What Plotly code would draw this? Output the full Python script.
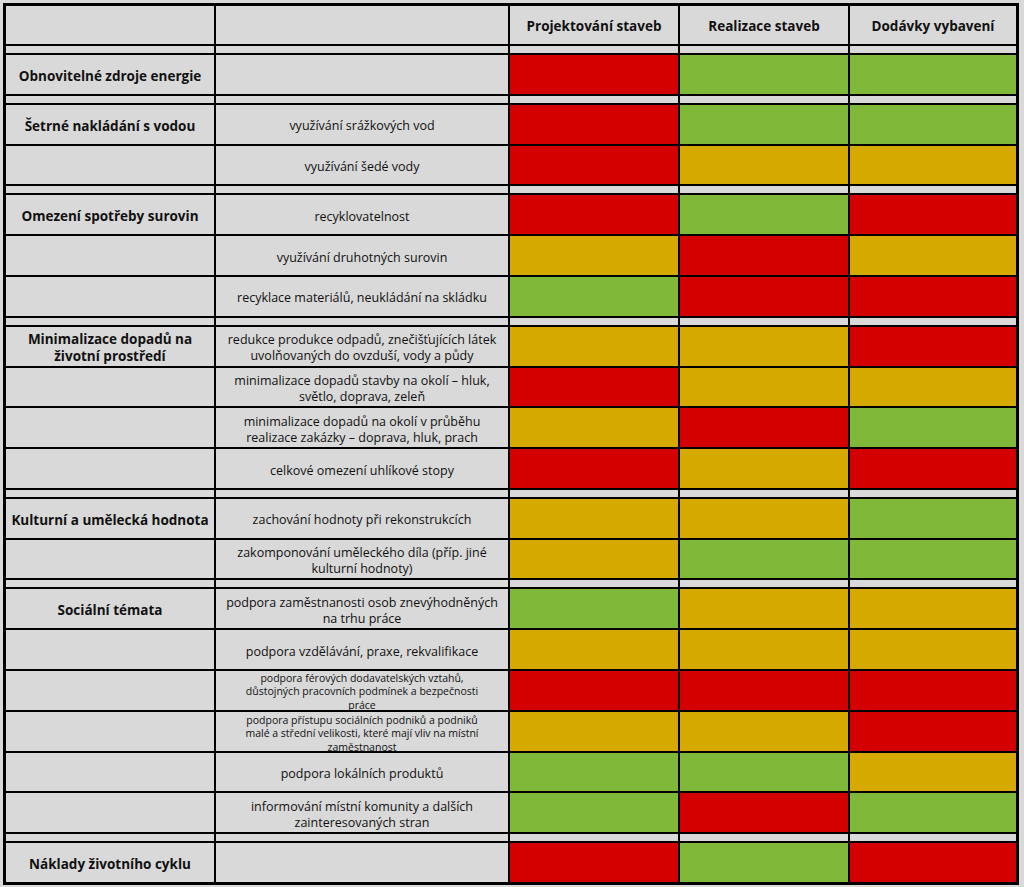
import plotly.graph_objects as go

# --- data -------------------------------------------------------------
columns = ["Projektování staveb", "Realizace staveb", "Dodávky vybavení"]

groups = [
    "Obnovitelné zdroje energie",
    "Šetrné nakládání s vodou",
    "Omezení spotřeby surovin",
    "Minimalizace dopadů na<br>životní prostředí",
    "Kulturní a umělecká hodnota",
    "Sociální témata",
    "Náklady životního cyklu",
]

items = [
    [""],
    ["využívání srážkových vod", "využívání šedé vody"],
    ["recyklovatelnost", "využívání druhotných surovin",
     "recyklace materiálů, neukládání na skládku"],
    ["redukce produkce odpadů, znečišťujících látek<br>uvolňovaných do ovzduší, vody a půdy",
     "minimalizace dopadů stavby na okolí – hluk,<br>světlo, doprava, zeleň",
     "minimalizace dopadů na okolí v průběhu<br>realizace zakázky – doprava, hluk, prach",
     "celkové omezení uhlíkové stopy"],
    ["zachování hodnoty při rekonstrukcích",
     "zakomponování uměleckého díla (příp. jiné<br>kulturní hodnoty)"],
    ["podpora zaměstnanosti osob znevýhodněných<br>na trhu práce",
     "podpora vzdělávání, praxe, rekvalifikace",
     "podpora férových dodavatelských vztahů,<br>důstojných pracovních podmínek a bezpečnosti<br>práce",
     "podpora přístupu sociálních podniků a podniků<br>malé a střední velikosti, které mají vliv na místní<br>zaměstnanost",
     "podpora lokálních produktů",
     "informování místní komunity a dalších<br>zainteresovaných stran"],
    [""],
]

# R = red, A = amber, G = green  (projektování, realizace, dodávky)
ratings = [
    ["RGG"],
    ["RGG", "RAA"],
    ["RGR", "ARA", "GRR"],
    ["AAR", "RAA", "ARG", "RAR"],
    ["AAG", "AGG"],
    ["GAA", "AAA", "RRR", "AAR", "GGA", "GRG"],
    ["RGR"],
]

# --- layout constants ---------------------------------------------------
col_w = [210, 294, 170, 170, 168]
HEADER_H = 40
GAP_H = 9
ROW_H = 40.8
TEXT_DY = 3      # scatter text sits a bit high; push it to the cell centre

GRAY = "#d9d9d9"
RED = "#d40000"
AMBER = "#d6a900"
GREEN = "#80b83a"
code = {"R": 1, "A": 2, "G": 3}

x_edges = [0]
for w in col_w:
    x_edges.append(x_edges[-1] + w)
x_mid = [(x_edges[i] + x_edges[i + 1]) / 2 for i in range(5)]


def nlines(t):
    return t.count("<br>") + 1


# bold labels (headers + group names) and plain item labels
bx, by, btxt = [], [], []
ix, iy, itxt, isize = [], [], [], []

for i, c in enumerate(columns):
    bx.append(x_mid[i + 2])
    by.append(HEADER_H / 2 + TEXT_DY)
    btxt.append(f"<b>{c}</b>")

# build rows: header, then (gap + group rows) for each group
row_h = [HEADER_H]
z = [[0] * 5]
y = HEADER_H
for g, its, rts in zip(groups, items, ratings):
    row_h.append(GAP_H)
    z.append([0] * 5)
    y += GAP_H
    for k, (it, rt) in enumerate(zip(its, rts)):
        row_h.append(ROW_H)
        z.append([0, 0] + [code[ch] for ch in rt])
        yc = y + ROW_H / 2 + TEXT_DY
        if k == 0:
            bx.append(x_mid[0])
            by.append(yc)
            btxt.append(f"<b>{g}</b>")
        if it:
            size = 12.5
            if nlines(it) >= 3:
                size = 10.5
                # nudge tall texts apart from a tall neighbour
                if k + 1 < len(its) and nlines(its[k + 1]) >= 3:
                    yc -= 0.6
                if k > 0 and nlines(its[k - 1]) >= 3:
                    yc += 0.6
            ix.append(x_mid[1])
            iy.append(yc)
            itxt.append(it)
            isize.append(size)
        y += ROW_H

y_edges = [0]
for h in row_h:
    y_edges.append(y_edges[-1] + h)

fig = go.Figure()
fig.add_trace(go.Heatmap(
    z=z, x=x_edges, y=y_edges,
    zmin=0, zmax=3,
    colorscale=[[0, GRAY], [1 / 3, RED], [2 / 3, AMBER], [1, GREEN]],
    showscale=False, xgap=2, ygap=2, hoverinfo="skip",
))
fig.add_trace(go.Scatter(
    x=bx, y=by, text=btxt, mode="text", textposition="middle center",
    textfont=dict(family="Open Sans", size=13.5, color="#111111"),
    cliponaxis=False, hoverinfo="skip", showlegend=False,
))
fig.add_trace(go.Scatter(
    x=ix, y=iy, text=itxt, mode="text", textposition="middle center",
    textfont=dict(family="Open Sans", size=isize, color="#111111"),
    cliponaxis=False, hoverinfo="skip", showlegend=False,
))

PAD = 2
fig.update_layout(
    width=1024, height=887,
    margin=dict(l=3, r=5, t=3, b=2),
    paper_bgcolor=GRAY,
    plot_bgcolor="#000000",
    showlegend=False,
    xaxis=dict(range=[-PAD, x_edges[-1] + PAD], visible=False, fixedrange=True),
    yaxis=dict(range=[y_edges[-1] + PAD, -PAD], visible=False, fixedrange=True),
)

fig.write_html("out.html", config={"displayModeBar": False},
               post_script="document.body.style.margin='0';document.body.style.background='#d9d9d9';")
